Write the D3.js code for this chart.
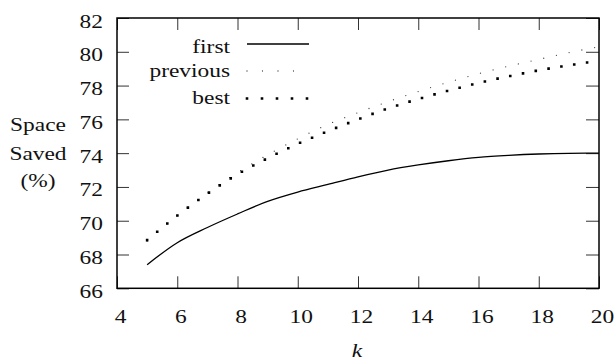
<!DOCTYPE html>
<html>
<head>
<meta charset="utf-8">
<script src="https://cdnjs.cloudflare.com/ajax/libs/d3/7.8.5/d3.min.js"></script>
<style>
  body { margin: 0; background: #fff; }
  svg text { font-size: 19.5px; fill: #111; }
</style>
</head>
<body>
<svg id="chart" width="615" height="363"></svg>
<script>
// values
const kValues = [5, 6, 7, 8, 9, 10, 11, 12, 13, 14, 15, 16, 17, 18, 19, 20]
const firstSaved = [67.4, 68.7, 69.6, 70.4, 71.15, 71.7, 72.15, 72.6, 73.0, 73.3, 73.55, 73.75, 73.87, 73.95, 73.99, 74.0]
const previousSaved = [68.8, 70.3, 71.65, 72.85, 73.9, 74.85, 75.7, 76.4, 77.05, 77.65, 78.2, 78.7, 79.15, 79.55, 79.95, 80.3]
const bestSaved = [68.85, 70.3, 71.6, 72.75, 73.7, 74.55, 75.3, 76.0, 76.65, 77.2, 77.7, 78.15, 78.55, 78.9, 79.2, 79.47]
const xTicks = [4, 6, 8, 10, 12, 14, 16, 18, 20]
const yTicks = [66, 68, 70, 72, 74, 76, 78, 80, 82]
const legendNames = ['first', 'previous', 'best']

const L = 117, R = 599, T = 18, B = 288.3
const SX = 1.2 // the reference type is a bit wider than a Times face
const FONT = 'Liberation Serif, Times New Roman, Times, Tinos, Nimbus Roman, FreeSerif, Noto Serif, DejaVu Serif, Georgia, serif'

const svg = d3.select('#chart').style('font-family', FONT)

const x = d3.scaleLinear().domain([4, 20]).range([L, R])
const y = d3.scaleLinear().domain([66, 82]).range([B, T])

function styleTicks(g) {
  g.attr('font-family', null).attr('font-size', null)
  g.select('.domain').remove()
  g.selectAll('.tick line').attr('stroke', '#333').attr('stroke-width', 1)
}

// left axis with labels
const yAxis = svg.append('g')
    .attr('transform', 'translate(' + L + ',0)')
    .call(d3.axisLeft(y).tickValues(yTicks).tickSize(-12).tickSizeOuter(0))
    .call(styleTicks)
yAxis.selectAll('.tick text')
    .attr('x', null).attr('dy', null)
    .attr('fill', '#111')
    .attr('transform', 'translate(-14,9) scale(' + SX + ',1)')

// bottom axis with labels
const xAxis = svg.append('g')
    .attr('transform', 'translate(0,' + B + ')')
    .call(d3.axisBottom(x).tickValues(xTicks).tickSize(-12).tickSizeOuter(0))
    .call(styleTicks)
xAxis.selectAll('.tick text')
    .attr('y', null).attr('dy', null)
    .attr('fill', '#111')
    .attr('transform', 'translate(3,35) scale(' + SX + ',1)')

// mirrored ticks on top and right, no labels
svg.append('g')
    .attr('transform', 'translate(0,' + T + ')')
    .call(d3.axisTop(x).tickValues(xTicks).tickSize(-12).tickSizeOuter(0).tickFormat(''))
    .call(styleTicks)
svg.append('g')
    .attr('transform', 'translate(' + R + ',0)')
    .call(d3.axisRight(y).tickValues(yTicks).tickSize(-13).tickSizeOuter(0).tickFormat(''))
    .call(styleTicks)

// frame
svg.append('rect')
    .attr('x', L).attr('y', T)
    .attr('width', R - L).attr('height', B - T)
    .attr('fill', 'none').attr('stroke', '#000').attr('stroke-width', 1.5)

// curves
const line = d3.line()
    .x(d => x(d[0]))
    .y(d => y(d[1]))
    .curve(d3.curveMonotoneX)

const zip = vals => kValues.map((k, i) => [k, vals[i]])

svg.append('path')
    .datum(zip(previousSaved))
    .attr('d', line)
    .attr('fill', 'none').attr('stroke', '#444').attr('stroke-width', 1.3)
    .attr('stroke-linecap', 'round').attr('stroke-dasharray', '0 13')

svg.append('path')
    .datum(zip(bestSaved))
    .attr('d', line)
    .attr('fill', 'none').attr('stroke', '#000').attr('stroke-width', 2.6)
    .attr('stroke-linecap', 'square').attr('stroke-dasharray', '0 13')

svg.append('path')
    .datum(zip(firstSaved))
    .attr('d', line)
    .attr('fill', 'none').attr('stroke', '#000').attr('stroke-width', 1.3)

// legend
const legendStyles = [
  { stroke: '#000', width: 1.3, cap: 'butt', dash: null },
  { stroke: '#444', width: 1.3, cap: 'round', dash: '0 15.5' },
  { stroke: '#000', width: 2.6, cap: 'square', dash: '0 15' }
]
const legendSampleY = [44, 71, 98.5]
const legendTextY = [53, 76.5, 104]

const legend = svg.append('g')
legendNames.forEach((name, i) => {
  legend.append('text')
      .attr('text-anchor', 'end')
      .attr('transform', 'translate(230,' + legendTextY[i] + ') scale(' + SX + ',1)')
      .text(name)
  const s = legendStyles[i]
  legend.append('line')
      .attr('x1', 247).attr('x2', 309)
      .attr('y1', legendSampleY[i]).attr('y2', legendSampleY[i])
      .attr('stroke', s.stroke).attr('stroke-width', s.width)
      .attr('stroke-linecap', s.cap)
      .attr('stroke-dasharray', s.dash)
})

// axis titles
const yTitle = ['Space', 'Saved', '(%)']
const yTitleY = [131, 159.5, 187]
yTitle.forEach((t, i) => {
  svg.append('text')
      .attr('text-anchor', 'middle')
      .attr('transform', 'translate(38,' + yTitleY[i] + ') scale(' + SX + ',1)')
      .text(t)
})

svg.append('text')
    .attr('text-anchor', 'middle')
    .attr('font-style', 'italic')
    .attr('transform', 'translate(357,357) scale(' + SX + ',1)')
    .text('k')
</script>
</body>
</html>
